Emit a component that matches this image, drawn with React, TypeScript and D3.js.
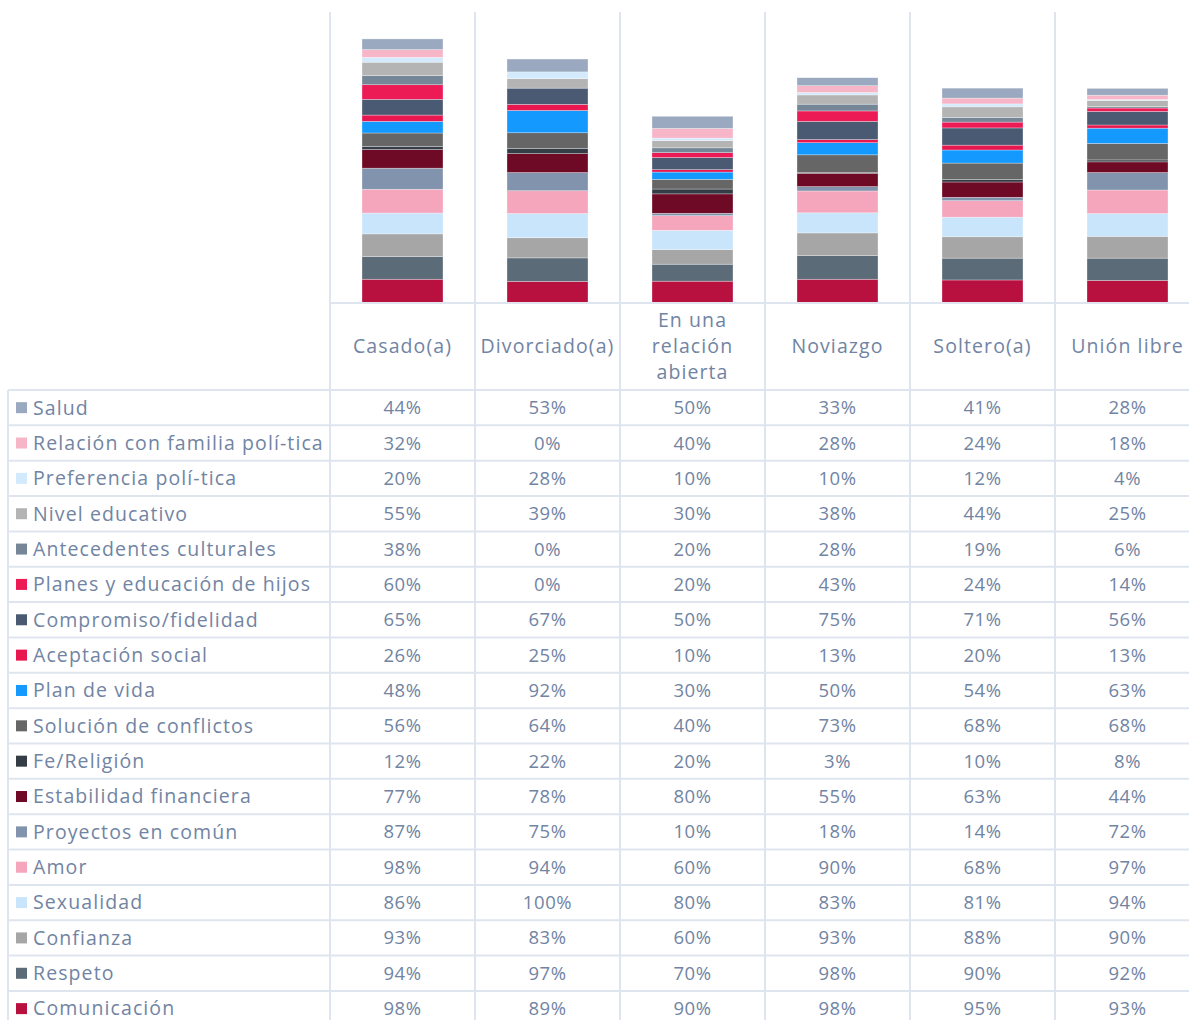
import React, { useEffect, useRef } from 'react';
import * as d3 from 'd3';

// categories (columns)
const categories = ["Casado(a)", "Divorciado(a)", "En una relación abierta", "Noviazgo", "Soltero(a)", "Unión libre"];
const categoryLines = [["Casado(a)"], ["Divorciado(a)"], ["En una", "relación", "abierta"], ["Noviazgo"], ["Soltero(a)"], ["Unión libre"]];

// series in table order (top row = top of stack)
const seriesNames = [
  "Salud", "Relación con familia polí-tica", "Preferencia polí-tica", "Nivel educativo",
  "Antecedentes culturales", "Planes y educación de hijos", "Compromiso/fidelidad",
  "Aceptación social", "Plan de vida", "Solución de conflictos", "Fe/Religión",
  "Estabilidad financiera", "Proyectos en común", "Amor", "Sexualidad", "Confianza",
  "Respeto", "Comunicación"
];
const seriesColors = [
  "#9aa9c0", "#f7b5c8", "#d2eafb", "#b4b4b4", "#758797", "#ec1a55", "#4a5a73",
  "#e8174f", "#1499ff", "#666666", "#343d46", "#6e0a25", "#8293ae", "#f5a5bc",
  "#c9e5fb", "#a6a6a6", "#5b6b78", "#b81140"
];
// values per series, one per category
const salud = [44, 53, 50, 33, 41, 28];
const familiaPolitica = [32, 0, 40, 28, 24, 18];
const preferenciaPolitica = [20, 28, 10, 10, 12, 4];
const nivelEducativo = [55, 39, 30, 38, 44, 25];
const antecedentes = [38, 0, 20, 28, 19, 6];
const planesHijos = [60, 0, 20, 43, 24, 14];
const compromiso = [65, 67, 50, 75, 71, 56];
const aceptacion = [26, 25, 10, 13, 20, 13];
const planVida = [48, 92, 30, 50, 54, 63];
const solucion = [56, 64, 40, 73, 68, 68];
const fe = [12, 22, 20, 3, 10, 8];
const estabilidad = [77, 78, 80, 55, 63, 44];
const proyectos = [87, 75, 10, 18, 14, 72];
const amor = [98, 94, 60, 90, 68, 97];
const sexualidad = [86, 100, 80, 83, 81, 94];
const confianza = [93, 83, 60, 93, 88, 90];
const respeto = [94, 97, 70, 98, 90, 92];
const comunicacion = [98, 89, 90, 98, 95, 93];

const seriesValues = [
  salud, familiaPolitica, preferenciaPolitica, nivelEducativo, antecedentes, planesHijos,
  compromiso, aceptacion, planVida, solucion, fe, estabilidad, proyectos, amor, sexualidad,
  confianza, respeto, comunicacion
];

const W = 1189;
const H = 1020;
const FONT = "'Open Sans', sans-serif";
const TEXT = "#7184a3";
const GRID = "#dfe5ee";

export default function App() {
  const ref = useRef<SVGSVGElement>(null);

  useEffect(() => {
    const svg = d3.select(ref.current);
    svg.selectAll("*").remove();

    const plotTop = 12, plotBottom = 303, headerBottom = 390, rowH = 35.35;
    const tableLeft = 8;

    const x = d3.scaleBand().domain(categories).range([330, 1200]).paddingInner(0).paddingOuter(0);
    const y = d3.scaleLinear().domain([0, 1200]).range([plotBottom, plotTop]);
    const barW = 81;

    // stacked data: bottom = last table row
    const stackOrder = seriesNames.map((_, i) => i).reverse();
    const rows = categories.map((c, ci) => {
      const o: any = { cat: c };
      seriesNames.forEach((s, si) => { o[s] = seriesValues[si][ci]; });
      return o;
    });
    const stack = d3.stack<any>().keys(stackOrder.map(i => seriesNames[i]))(rows);

    const bars = svg.append("g");
    stack.forEach(layer => {
      const si = seriesNames.indexOf(layer.key);
      bars.selectAll(null)
        .data(layer)
        .enter()
        .append("rect")
        .attr("x", d => (x(d.data.cat) as number) + (x.bandwidth() - barW) / 2)
        .attr("width", barW)
        .attr("y", d => y(d[1]))
        .attr("height", d => Math.max(0, y(d[0]) - y(d[1])))
        .attr("fill", seriesColors[si])
        .attr("stroke", "#ffffff")
        .attr("stroke-opacity", 0.5)
        .attr("stroke-width", 0.6);
    });

    // grid lines
    const grid = svg.append("g").attr("stroke", GRID).attr("stroke-width", 2);
    const bounds = categories.map(c => x(c) as number).concat([1200]);
    grid.selectAll(null).data(bounds).enter().append("line")
      .attr("x1", d => d).attr("x2", d => d)
      .attr("y1", plotTop).attr("y2", H);
    grid.append("line").attr("x1", 330).attr("x2", W).attr("y1", plotBottom).attr("y2", plotBottom);
    grid.append("line").attr("x1", tableLeft).attr("x2", tableLeft).attr("y1", headerBottom).attr("y2", H);
    const hLines = d3.range(seriesNames.length + 1).map(i => headerBottom + i * rowH);
    grid.selectAll(null).data(hLines).enter().append("line")
      .attr("x1", tableLeft).attr("x2", W)
      .attr("y1", d => d).attr("y2", d => d);

    // category headers
    const headerMid = (plotBottom + headerBottom) / 2;
    categories.forEach((c, ci) => {
      const lines = categoryLines[ci];
      const cx = (x(c) as number) + x.bandwidth() / 2;
      lines.forEach((ln, li) => {
        svg.append("text")
          .attr("x", cx)
          .attr("y", headerMid + (li - (lines.length - 1) / 2) * 26)
          .attr("dy", "0.35em")
          .attr("text-anchor", "middle")
          .attr("font-family", FONT)
          .attr("font-size", 19.5)
          .attr("letter-spacing", 1.1)
          .attr("fill", TEXT)
          .text(ln);
      });
    });

    // table rows
    seriesNames.forEach((s, si) => {
      const cy = headerBottom + si * rowH + rowH / 2;
      svg.append("rect")
        .attr("x", 16).attr("y", cy - 5.5)
        .attr("width", 11).attr("height", 11)
        .attr("fill", seriesColors[si]);
      svg.append("text")
        .attr("x", 33).attr("y", cy)
        .attr("dy", "0.35em")
        .attr("font-family", FONT)
        .attr("font-size", 19.5)
        .attr("letter-spacing", 1.1)
        .attr("fill", TEXT)
        .text(s);
      categories.forEach((c, ci) => {
        svg.append("text")
          .attr("x", (x(c) as number) + x.bandwidth() / 2)
          .attr("y", cy)
          .attr("dy", "0.35em")
          .attr("text-anchor", "middle")
          .attr("font-family", FONT)
          .attr("font-size", 18.5)
          .attr("letter-spacing", 0.6)
          .attr("fill", TEXT)
          .text(seriesValues[si][ci] + "%");
      });
    });
  }, []);

  return (
    <svg ref={ref} width={W} height={H}
      style={{ position: "absolute", left: 0, top: 0, background: "#ffffff" }} />
  );
}
